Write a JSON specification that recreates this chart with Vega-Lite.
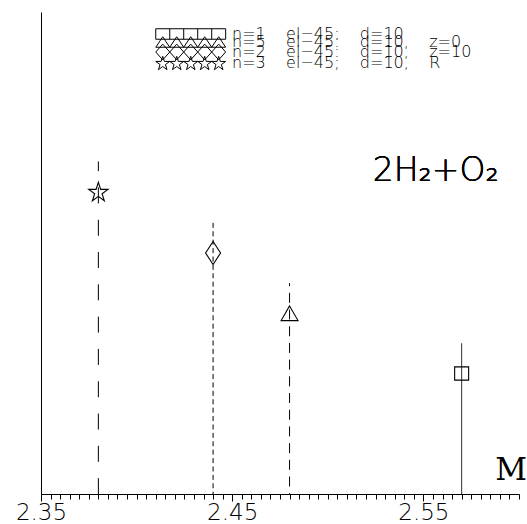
{
  "$schema": "https://vega.github.io/schema/vega-lite/v6.json",
  "width": 478,
  "height": 482,
  "autosize": "none",
  "padding": {"left": 41, "top": 12, "right": 8, "bottom": 30},
  "config": {
    "view": {"stroke": null},
    "axis": {"grid": false, "domainColor": "black", "tickColor": "black", "labelColor": "black"},
    "font": "DejaVu Sans"
  },
  "data": {
    "values": [
      {"series": "n=1\u00a0\u00a0\u00a0\u00a0el\u221245:\u00a0\u00a0\u00a0\u00a0d=10", "M": 2.57, "y": 2.0, "top": 2.5},
      {"series": "n=5\u00a0\u00a0\u00a0\u00a0el\u221245:\u00a0\u00a0\u00a0\u00a0d=10,\u00a0\u00a0\u00a0\u00a0z=0", "M": 2.48, "y": 3.0, "top": 3.5},
      {"series": "n=2\u00a0\u00a0\u00a0\u00a0el\u221245:\u00a0\u00a0\u00a0\u00a0d=10,\u00a0\u00a0\u00a0\u00a0z=10", "M": 2.44, "y": 4.0, "top": 4.5},
      {"series": "n=3\u00a0\u00a0\u00a0\u00a0el\u221245;\u00a0\u00a0\u00a0\u00a0d=10,\u00a0\u00a0\u00a0\u00a0R", "M": 2.38, "y": 5.02, "top": 5.52}
    ]
  },
  "resolve": {"scale": {"shape": "independent"}, "legend": {"shape": "independent", "strokeDash": "independent"}},
  "layer": [
    {
      "mark": {"type": "rule", "color": "black", "strokeWidth": 1, "strokeDashOffset": {"expr": "datum.M == 2.38 ? 6.3 : (datum.M == 2.48 ? 7 : 0)"}},
      "encoding": {
        "x": {
          "field": "M", "type": "quantitative",
          "scale": {"domain": [2.35, 2.6], "nice": false, "zero": false},
          "axis": {
            "values": [2.35,2.355,2.36,2.365,2.37,2.375,2.38,2.385,2.39,2.395,2.4,2.405,2.41,2.415,2.42,2.425,2.43,2.435,2.44,2.445,2.45,2.455,2.46,2.465,2.47,2.475,2.48,2.485,2.49,2.495,2.5,2.505,2.51,2.515,2.52,2.525,2.53,2.535,2.54,2.545,2.55,2.555,2.56,2.565,2.57,2.575,2.58,2.585,2.59,2.595,2.6],
            "tickCount": 200,
            "labelExpr": "(abs(datum.value - 2.35) < 0.0001 || abs(datum.value - 2.45) < 0.0001 || abs(datum.value - 2.55) < 0.0001) ? format(datum.value, '.2f') : ''",
            "tickSize": {"condition": {"test": "abs(datum.value - 2.35) < 0.0001 || abs(datum.value - 2.45) < 0.0001 || abs(datum.value - 2.55) < 0.0001", "value": 7}, "value": 5},
            "tickWidth": 1,
            "domainWidth": 1,
            "labelFont": "DejaVu Sans",
            "labelFontWeight": 200,
            "labelFontSize": 23,
            "labelPadding": 0,
            "labelDx": -6,
            "labelOverlap": false,
            "labelFlush": false,
            "labelBound": false,
            "title": "M",
            "titleFont": "DejaVu Serif",
            "titleFontSize": 31,
            "titleFontWeight": "normal",
            "titleColor": "black",
            "titleAlign": "center",
            "titleBaseline": "alphabetic",
            "titleAngle": 0,
            "titleX": 469.5,
            "titleY": -15
          }
        },
        "y": {
          "field": "top", "type": "quantitative",
          "scale": {"domain": [0, 8], "nice": false, "zero": true},
          "axis": {"ticks": false, "labels": false, "title": null, "domain": true, "domainWidth": 1}
        },
        "y2": {"datum": 0},
        "strokeDash": {
          "field": "series", "type": "nominal",
          "scale": {
            "domain": [
              "n=1\u00a0\u00a0\u00a0\u00a0el\u221245:\u00a0\u00a0\u00a0\u00a0d=10",
              "n=5\u00a0\u00a0\u00a0\u00a0el\u221245:\u00a0\u00a0\u00a0\u00a0d=10,\u00a0\u00a0\u00a0\u00a0z=0",
              "n=2\u00a0\u00a0\u00a0\u00a0el\u221245:\u00a0\u00a0\u00a0\u00a0d=10,\u00a0\u00a0\u00a0\u00a0z=10",
              "n=3\u00a0\u00a0\u00a0\u00a0el\u221245;\u00a0\u00a0\u00a0\u00a0d=10,\u00a0\u00a0\u00a0\u00a0R"
            ],
            "range": [[1, 0], [10, 6.7], [5, 3.4], [16, 16.3]]
          },
          "legend": null
        }
      }
    },
    {
      "mark": {"type": "point", "filled": false, "color": "black", "strokeWidth": 1.1, "size": 196, "opacity": 1},
      "encoding": {
        "x": {"field": "M", "type": "quantitative"},
        "y": {"field": "y", "type": "quantitative"},
        "shape": {
          "field": "series", "type": "nominal",
          "scale": {
            "domain": [
              "n=1\u00a0\u00a0\u00a0\u00a0el\u221245:\u00a0\u00a0\u00a0\u00a0d=10",
              "n=5\u00a0\u00a0\u00a0\u00a0el\u221245:\u00a0\u00a0\u00a0\u00a0d=10,\u00a0\u00a0\u00a0\u00a0z=0",
              "n=2\u00a0\u00a0\u00a0\u00a0el\u221245:\u00a0\u00a0\u00a0\u00a0d=10,\u00a0\u00a0\u00a0\u00a0z=10",
              "n=3\u00a0\u00a0\u00a0\u00a0el\u221245;\u00a0\u00a0\u00a0\u00a0d=10,\u00a0\u00a0\u00a0\u00a0R"
            ],
            "range": [
              "M-1,-0.95H1V0.95H-1Z",
              "M0,-1.05L1.21,1.05L-1.21,1.05Z",
              "M0,-1.64L1.07,0L0,1.64L-1.07,0Z",
              "M0,-1.31L0.33,-0.31L1.38,-0.31L0.53,0.31L0.85,1.31L0,0.69L-0.85,1.31L-0.53,0.31L-1.38,-0.31L-0.33,-0.31Z"
            ]
          },
          "legend": null
        }
      }
    },
    {
      "mark": {"type": "point", "filled": false, "color": "black", "strokeWidth": 1, "size": 110, "opacity": 0},
      "encoding": {
        "x": {"field": "M", "type": "quantitative"},
        "y": {"field": "y", "type": "quantitative"},
        "shape": {
          "field": "series", "type": "nominal",
          "scale": {
            "domain": [
              "n=1\u00a0\u00a0\u00a0\u00a0el\u221245:\u00a0\u00a0\u00a0\u00a0d=10",
              "n=5\u00a0\u00a0\u00a0\u00a0el\u221245:\u00a0\u00a0\u00a0\u00a0d=10,\u00a0\u00a0\u00a0\u00a0z=0",
              "n=2\u00a0\u00a0\u00a0\u00a0el\u221245:\u00a0\u00a0\u00a0\u00a0d=10,\u00a0\u00a0\u00a0\u00a0z=10",
              "n=3\u00a0\u00a0\u00a0\u00a0el\u221245;\u00a0\u00a0\u00a0\u00a0d=10,\u00a0\u00a0\u00a0\u00a0R"
            ],
            "range": [
              "M-1,-1H12.33V1H-1Z M1.67,-1V1 M4.33,-1V1 M7,-1V1 M9.67,-1V1",
              "M-1,1L0.33,-1L1.67,1L3,-1L4.33,1L5.67,-1L7,1L8.33,-1L9.67,1L11,-1L12.33,1Z",
              "M-1,0L0.33,-1.5L1.67,0L3,-1.5L4.33,0L5.67,-1.5L7,0L8.33,-1.5L9.67,0L11,-1.5L12.33,0L11,1.5L9.67,0L8.33,1.5L7,0L5.67,1.5L4.33,0L3,1.5L1.67,0L0.33,1.5Z",
              "M0.33,-1.27L0.64,-0.3L1.66,-0.3L0.84,0.3L1.15,1.27L0.33,0.67L-0.49,1.27L-0.18,0.3L-1,-0.3L0.02,-0.3Z M3,-1.27L3.31,-0.3L4.33,-0.3L3.51,0.3L3.82,1.27L3,0.67L2.18,1.27L2.49,0.3L1.67,-0.3L2.69,-0.3Z M5.67,-1.27L5.98,-0.3L7,-0.3L6.18,0.3L6.49,1.27L5.67,0.67L4.85,1.27L5.16,0.3L4.34,-0.3L5.36,-0.3Z M8.33,-1.27L8.64,-0.3L9.66,-0.3L8.84,0.3L9.15,1.27L8.33,0.67L7.51,1.27L7.82,0.3L7,-0.3L8.02,-0.3Z M11,-1.27L11.31,-0.3L12.33,-0.3L11.51,0.3L11.82,1.27L11,0.67L10.18,1.27L10.49,0.3L9.67,-0.3L10.69,-0.3Z"
            ]
          },
          "legend": {
            "title": null,
            "orient": "none",
            "legendX": 112,
            "legendY": 14,
            "padding": 0,
            "rowPadding": -8,
            "gridAlign": "none",
            "labelOffset": 63,
            "labelFont": "DejaVu Sans",
            "labelFontWeight": 200,
            "labelFontSize": 16,
            "labelColor": "black",
            "labelLimit": 0,
            "symbolSize": 110,
            "symbolOpacity": 1,
            "symbolStrokeColor": "black",
            "symbolStrokeWidth": 1,
            "symbolFillColor": "transparent"
          }
        }
      }
    },
    {
      "mark": {"type": "text", "font": "DejaVu Sans", "fontWeight": 200, "fontSize": 33, "align": "left", "baseline": "alphabetic", "color": "black"},
      "encoding": {
        "x": {"datum": 2.5235, "type": "quantitative"},
        "y": {"datum": 5.195, "type": "quantitative"},
        "text": {"value": "2H\u2082+O\u2082"}
      }
    }
  ]
}
